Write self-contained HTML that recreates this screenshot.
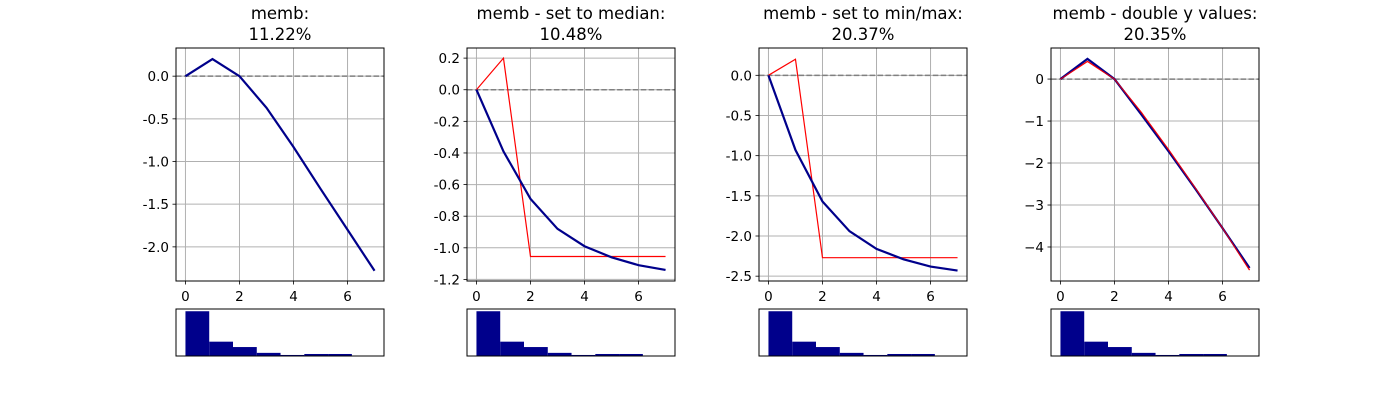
<!DOCTYPE html>
<html><head><meta charset="utf-8"><style>
body{margin:0;background:#fff;}
svg text{font-family:"DejaVu Sans","Liberation Sans",sans-serif;font-size:13.5px;fill:#000;}
svg .title{font-size:16.5px;}
</style></head><body>
<svg id="fig" width="1400" height="400" xmlns="http://www.w3.org/2000/svg"></svg>
<script>
const xCats = [0,1,2,3,4,5,6,7];
const titles1 = ["memb:","memb - set to median:","memb - set to min/max:","memb - double y values:"];
const titles2 = ["11.22%","10.48%","20.37%","20.35%"];
const blueP1 = [0,0.2,0,-0.37,-0.83,-1.32,-1.8,-2.28];
const blueP2 = [0,-0.39,-0.69,-0.88,-0.99,-1.06,-1.11,-1.14];
const redP2 = [0,0.2,-1.055,-1.055,-1.055,-1.055,-1.055,-1.055];
const blueP3 = [0,-0.93,-1.57,-1.94,-2.16,-2.29,-2.38,-2.43];
const redP3 = [0,0.2,-2.27,-2.27,-2.27,-2.27,-2.27,-2.27];
const blueP4 = [0,0.48,0,-0.85,-1.72,-2.62,-3.55,-4.5];
const redP4 = [0,0.42,0,-0.8,-1.68,-2.6,-3.55,-4.55];
const yTicks1 = [0,-0.5,-1,-1.5,-2];
const yTicks2 = [0.2,0,-0.2,-0.4,-0.6,-0.8,-1,-1.2];
const yTicks3 = [0,-0.5,-1,-1.5,-2,-2.5];
const yTicks4 = [0,-1,-2,-3,-4];
const xTicks = [0,2,4,6];
const histEdges = [0,0.88,1.76,2.64,3.52,4.4,5.28,6.16];
const histCounts = [100,32,20,7,2.3,4.5,4.5];

const panels = [
 {left:176, ylim:[-2.40,0.33], blue:blueP1, red:null, ticks:yTicks1, fmt:v=>v.toFixed(1)},
 {left:467, ylim:[-1.21,0.264], blue:blueP2, red:redP2, ticks:yTicks2, fmt:v=>v.toFixed(1)},
 {left:759, ylim:[-2.56,0.34], blue:blueP3, red:redP3, ticks:yTicks3, fmt:v=>v.toFixed(1)},
 {left:1051, ylim:[-4.81,0.74], blue:blueP4, red:redP4, ticks:yTicks4, fmt:v=>v===0?"0":"\u2212"+Math.abs(v)}
];
const svg = document.getElementById('fig');
const NS = "http://www.w3.org/2000/svg";
function mk(tag, attrs, parent){const e=document.createElementNS(NS,tag);for(const k in attrs)e.setAttribute(k,attrs[k]);(parent||svg).appendChild(e);return e;}
const W=208, TOP=48, BOT=281, HT=309, HB=356;
const xlim=[-0.35,7.35];
panels.forEach((p,i)=>{
  const g=mk('g',{});
  
  
  const sx=v=>p.left+(v-xlim[0])/(xlim[1]-xlim[0])*W;
  const sy=v=>BOT-(v-p.ylim[0])/(p.ylim[1]-p.ylim[0])*(BOT-TOP);
  const t1=mk('text',{x:p.left+W/2,y:19,'text-anchor':'middle',class:'title'},g);t1.textContent=titles1[i];
  
  
  const t2=mk('text',{x:p.left+W/2,y:40,'text-anchor':'middle',class:'title'},g);t2.textContent=titles2[i];
  
  
  xTicks.forEach(v=>{
    mk('line',{x1:sx(v),x2:sx(v),y1:TOP,y2:BOT,stroke:'#b0b0b0','stroke-width':1},g);
    mk('line',{x1:sx(v),x2:sx(v),y1:BOT,y2:BOT+3.5,stroke:'#000','stroke-width':0.8},g);
    const t=mk('text',{x:sx(v),y:BOT+20,'text-anchor':'middle'},g);t.textContent=v;
    
    
  });
  p.ticks.forEach(v=>{
    mk('line',{x1:p.left,x2:p.left+W,y1:sy(v),y2:sy(v),stroke:'#b0b0b0','stroke-width':1},g);
    mk('line',{x1:p.left-3.5,x2:p.left,y1:sy(v),y2:sy(v),stroke:'#000','stroke-width':0.8},g);
    const t=mk('text',{x:p.left-7,y:sy(v)+5,'text-anchor':'end'},g);t.textContent=p.fmt(v);
    
    
  });
  const zl=mk('line',{x1:p.left,x2:p.left+W,y1:sy(0),y2:sy(0),stroke:'#808080','stroke-width':1.5,'stroke-dasharray':'5.5,2.4'},g);
  
  
  if(p.red){
    const r=mk('polyline',{points:xCats.map((x,k)=>sx(x)+','+sy(p.red[k])).join(' '),fill:'none',stroke:'#ff0000','stroke-width':1.2},g);
    
    
  }
  const b=mk('polyline',{points:xCats.map((x,k)=>sx(x)+','+sy(p.blue[k])).join(' '),fill:'none',stroke:'#00008b','stroke-width':2.2},g);
  
  
  if(i===3){
    const r=mk('polyline',{points:xCats.map((x,k)=>sx(x)+','+sy(p.red[k])).join(' '),fill:'none',stroke:'#ff0000','stroke-width':1.2,opacity:0.8},g);
    
    
  }
  const fr=mk('rect',{x:p.left,y:TOP,width:W,height:BOT-TOP,fill:'none',stroke:'#000','stroke-width':1},g);
  
  
  const hmax=Math.max(...histCounts)*1.05;
  const hy=v=>HB-v/hmax*(HB-HT);
  histCounts.forEach((c,k)=>{
    const x0=sx(histEdges[k]),x1=sx(histEdges[k+1]);
    const r=mk('rect',{x:x0,y:hy(c),width:x1-x0,height:HB-hy(c),fill:'#00008b'},g);
    
    
  });
  const hf=mk('rect',{x:p.left,y:HT,width:W,height:HB-HT,fill:'none',stroke:'#000','stroke-width':1},g);
  
  
});
</script>
</body></html>
